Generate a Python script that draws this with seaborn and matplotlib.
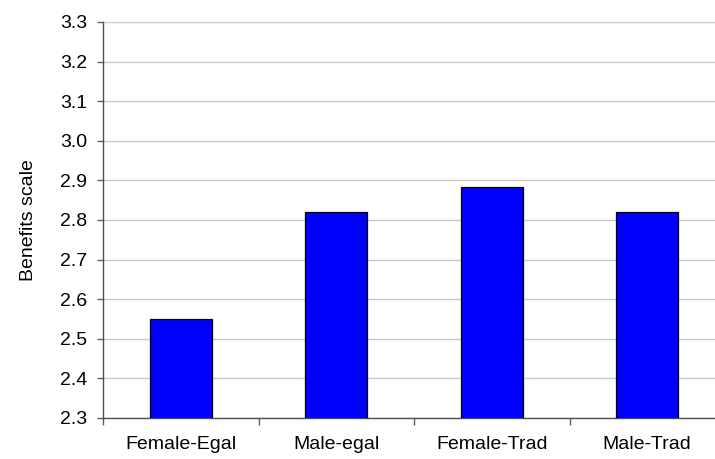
import matplotlib
matplotlib.use("Agg")
import matplotlib.pyplot as plt
from matplotlib.ticker import FixedLocator
import seaborn as sns
import pandas as pd

# Mean benefits-scale score per group
groups = ["Female-Egal", "Male-egal", "Female-Trad", "Male-Trad"]
benefits = [2.55, 2.82, 2.884, 2.82]
y_ticks = [2.3, 2.4, 2.5, 2.6, 2.7, 2.8, 2.9, 3.0, 3.1, 3.2, 3.3]

df = pd.DataFrame({"group": groups, "benefits": benefits})

sns.set_style("white")
plt.rcParams["font.family"] = ["Liberation Sans", "DejaVu Sans"]

fig = plt.figure(figsize=(7.15, 4.59), dpi=100)
ax = fig.add_axes([103 / 715, 1 - 418 / 459, 622 / 715, 396 / 459])

sns.barplot(data=df, x="group", y="benefits", color="#0000ff", width=0.4,
            edgecolor="#000000", linewidth=0.9, saturation=1, ax=ax, zorder=3)

ax.set_ylim(2.3, 3.3)
ax.set_xlim(-0.5, 3.5)
ax.set_yticks(y_ticks)
ax.set_yticklabels([f"{v:.1f}" for v in y_ticks])
ax.yaxis.grid(True, color="#c8c8c8", linewidth=1.0, zorder=0)
ax.set_axisbelow(True)

# category labels at bar centres, tick marks at the category boundaries
ax.tick_params(axis="x", which="major", length=0, pad=13, labelsize=14, colors="#000000")
ax.xaxis.set_minor_locator(FixedLocator([-0.5, 0.5, 1.5, 2.5, 3.5]))
ax.tick_params(axis="x", which="minor", bottom=True, length=5, width=1, color="#606060", direction="out")
ax.tick_params(axis="y", left=True, length=4, width=1, color="#606060", direction="out",
               pad=7.5, labelsize=14, labelcolor="#000000")

for side in ("top", "right"):
    ax.spines[side].set_visible(False)
for side in ("left", "bottom"):
    ax.spines[side].set_color("#505050")
    ax.spines[side].set_linewidth(1.0)

ax.set_xlabel("")
ax.set_ylabel("Benefits scale", fontsize=14, color="#000000")
ax.yaxis.set_label_coords(-0.106, 0.5)

fig.savefig("out.png", dpi=100)
